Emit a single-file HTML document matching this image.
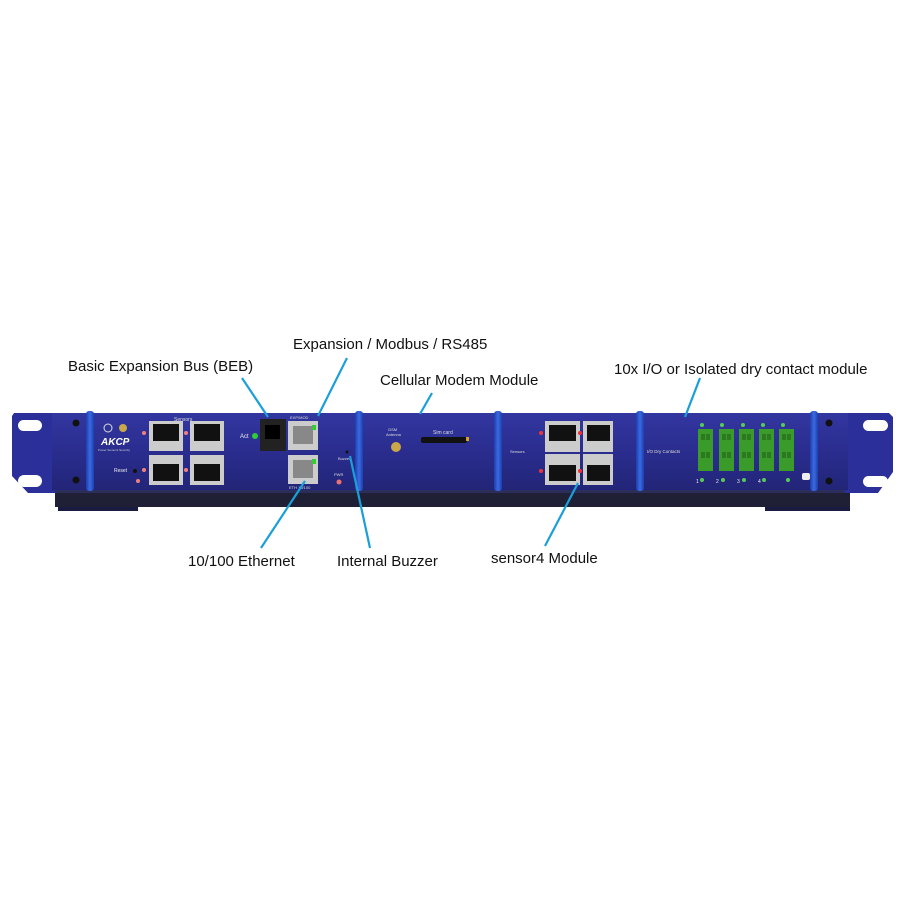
<!DOCTYPE html>
<html><head><style>
html,body{margin:0;padding:0;background:#fff;}
svg{display:block;}
text{font-family:"Liberation Sans",sans-serif;}
</style></head><body>
<svg width="900" height="900" viewBox="0 0 900 900" xmlns="http://www.w3.org/2000/svg">
<defs>
<linearGradient id="face" x1="0" y1="0" x2="0" y2="1">
<stop offset="0" stop-color="#3236a0"/><stop offset="0.5" stop-color="#2a2d8e"/><stop offset="1" stop-color="#222577"/>
</linearGradient>
<linearGradient id="bar" x1="0" y1="0" x2="1" y2="0">
<stop offset="0" stop-color="#1b3fb0"/><stop offset="0.5" stop-color="#3c6ae0"/><stop offset="1" stop-color="#1b3fb0"/>
</linearGradient>
</defs>
<!-- feet -->
<rect x="58" y="502" width="80" height="9" fill="#1a1b40"/>
<rect x="765" y="502" width="85" height="9" fill="#1a1b40"/>
<!-- bottom shadow -->
<rect x="55" y="488" width="795" height="19" fill="#1f2035"/>
<rect x="55" y="488" width="795" height="5" fill="#2b2d5a"/>
<!-- ears -->
<path d="M14 413 H55 V493 H28 L12 476 V416 Z" fill="#2a2f9a"/>
<rect x="18" y="420" width="24" height="11" rx="5.5" fill="#fff"/>
<rect x="18" y="475" width="24" height="12" rx="6" fill="#fff"/>
<path d="M845 413 H889 L893 417 V472 L878 493 H845 Z" fill="#2a2f9a"/>
<rect x="863" y="420" width="25" height="11" rx="5.5" fill="#fff"/>
<rect x="863" y="476" width="25" height="11" rx="5.5" fill="#fff"/>
<!-- face -->
<rect x="52" y="413" width="796" height="77" fill="url(#face)"/>
<circle cx="76" cy="423" r="3.5" fill="#111"/><circle cx="76" cy="480" r="3.5" fill="#111"/>
<circle cx="829" cy="423" r="3.5" fill="#111"/><circle cx="829" cy="481" r="3.5" fill="#111"/>
<!-- bars -->
<rect x="86" y="411" width="8" height="80" rx="3" fill="url(#bar)"/>
<rect x="355" y="411" width="8" height="80" rx="3" fill="url(#bar)"/>
<rect x="494" y="411" width="8" height="80" rx="3" fill="url(#bar)"/>
<rect x="636" y="411" width="8" height="80" rx="3" fill="url(#bar)"/>
<rect x="810" y="411" width="8" height="80" rx="3" fill="url(#bar)"/>
<!-- left module -->
<circle cx="108" cy="428" r="4" fill="none" stroke="#ddd" stroke-width="1"/>
<circle cx="123" cy="428" r="4" fill="#c9a84a"/>
<text x="101" y="445" font-size="10" font-weight="bold" font-style="italic" fill="#fff">AKCP</text>
<text x="98" y="451" font-size="3" fill="#ccc">Power Sensors Security</text>
<text x="174" y="421" font-size="5" fill="#ddd">Sensors</text>
<g fill="#ccc"><rect x="149" y="421" width="34" height="30"/><rect x="190" y="421" width="34" height="30"/><rect x="149" y="455" width="34" height="30"/><rect x="190" y="455" width="34" height="30"/></g>
<g fill="#111"><rect x="153" y="424" width="26" height="17"/><rect x="194" y="424" width="26" height="17"/><rect x="153" y="464" width="26" height="17"/><rect x="194" y="464" width="26" height="17"/></g>
<g fill="#f08080"><circle cx="144" cy="433" r="2"/><circle cx="186" cy="433" r="2"/><circle cx="144" cy="470" r="2"/><circle cx="186" cy="470" r="2"/><circle cx="138" cy="481" r="2"/></g>
<text x="114" y="472" font-size="5" fill="#eee">Reset</text>
<circle cx="135" cy="471" r="2" fill="#111"/>
<text x="240" y="438" font-size="6" fill="#eee">Act</text>
<circle cx="255" cy="436" r="3" fill="#3c3"/>
<rect x="260" y="419" width="26" height="32" fill="#222"/>
<rect x="265" y="425" width="15" height="14" fill="#000"/>
<text x="290" y="419" font-size="4" fill="#ddd">EXP/MOD</text>
<rect x="288" y="421" width="30" height="29" fill="#ccc"/><rect x="293" y="426" width="20" height="18" fill="#888"/><rect x="312" y="425" width="4" height="5" fill="#3c3"/>
<rect x="288" y="455" width="30" height="29" fill="#ccc"/><rect x="293" y="460" width="20" height="18" fill="#888"/><rect x="312" y="459" width="4" height="5" fill="#3c3"/>
<text x="289" y="489" font-size="4" fill="#ddd">ETH 10/100</text>
<circle cx="347" cy="452" r="1.5" fill="#111"/>
<text x="338" y="460" font-size="4" fill="#ddd">Buzzer</text>
<text x="334" y="476" font-size="4" fill="#ddd">PWR</text>
<circle cx="339" cy="482" r="2.5" fill="#f07070"/>
<!-- cellular -->
<text x="388" y="431" font-size="4" fill="#ddd">GSM</text><text x="386" y="436" font-size="4" fill="#ddd">Antenna</text>
<circle cx="396" cy="447" r="5" fill="#c9a84a"/>
<text x="433" y="434" font-size="5" fill="#ddd">Sim card</text>
<rect x="421" y="437" width="46" height="6" rx="2" fill="#111"/><rect x="466" y="437" width="3" height="4" fill="#d9a030"/>
<!-- sensor4 -->
<text x="510" y="453" font-size="4" fill="#ddd">Sensors</text>
<g fill="#ccc"><rect x="545" y="421" width="35" height="31" /><rect x="583" y="421" width="30" height="31"/><rect x="545" y="454" width="35" height="31"/><rect x="583" y="454" width="30" height="31"/></g>
<g fill="#111"><rect x="549" y="425" width="27" height="16"/><rect x="587" y="425" width="23" height="16"/><rect x="549" y="465" width="27" height="16"/><rect x="587" y="465" width="23" height="16"/></g>
<g fill="#e33"><circle cx="541" cy="433" r="2"/><circle cx="580" cy="433" r="2"/><circle cx="541" cy="471" r="2"/><circle cx="580" cy="471" r="2"/></g>
<!-- IO -->
<text x="647" y="453" font-size="4.5" fill="#ddd">I/O Dry Contacts</text>
<g>
<rect x="698" y="429" width="15" height="42" fill="#3a9a2a"/><rect x="719" y="429" width="15" height="42" fill="#3a9a2a"/><rect x="739" y="429" width="15" height="42" fill="#3a9a2a"/><rect x="759" y="429" width="15" height="42" fill="#3a9a2a"/><rect x="779" y="429" width="15" height="42" fill="#3a9a2a"/>
</g>
<g fill="#2b7a20">
<rect x="701" y="434" width="4" height="6"/><rect x="706" y="434" width="4" height="6"/><rect x="701" y="452" width="4" height="6"/><rect x="706" y="452" width="4" height="6"/>
<rect x="722" y="434" width="4" height="6"/><rect x="727" y="434" width="4" height="6"/><rect x="722" y="452" width="4" height="6"/><rect x="727" y="452" width="4" height="6"/>
<rect x="742" y="434" width="4" height="6"/><rect x="747" y="434" width="4" height="6"/><rect x="742" y="452" width="4" height="6"/><rect x="747" y="452" width="4" height="6"/>
<rect x="762" y="434" width="4" height="6"/><rect x="767" y="434" width="4" height="6"/><rect x="762" y="452" width="4" height="6"/><rect x="767" y="452" width="4" height="6"/>
<rect x="782" y="434" width="4" height="6"/><rect x="787" y="434" width="4" height="6"/><rect x="782" y="452" width="4" height="6"/><rect x="787" y="452" width="4" height="6"/>
</g>
<g fill="#5c5"><circle cx="702" cy="480" r="2"/><circle cx="723" cy="480" r="2"/><circle cx="744" cy="480" r="2"/><circle cx="764" cy="480" r="2"/><circle cx="788" cy="480" r="2"/>
<circle cx="702" cy="425" r="2"/><circle cx="722" cy="425" r="2"/><circle cx="743" cy="425" r="2"/><circle cx="763" cy="425" r="2"/><circle cx="783" cy="425" r="2"/></g>
<g font-size="5" fill="#eee"><text x="696" y="483">1</text><text x="716" y="483">2</text><text x="737" y="483">3</text><text x="758" y="483">4</text></g>
<rect x="802" y="473" width="8" height="7" rx="2" fill="#eee"/>
<!-- connector lines -->
<g stroke="#1a9fd8" stroke-width="2.2" fill="none">
<line x1="242" y1="378" x2="268" y2="417"/>
<line x1="347" y1="358" x2="318" y2="416"/>
<line x1="432" y1="393" x2="420" y2="414"/>
<line x1="700" y1="378" x2="685" y2="417"/>
<line x1="261" y1="548" x2="305" y2="481"/>
<line x1="370" y1="548" x2="350" y2="456"/>
<line x1="545" y1="546" x2="578" y2="483"/>
</g>
<!-- labels -->
<g font-size="15" fill="#111">
<text x="68" y="371">Basic Expansion Bus (BEB)</text>
<text x="293" y="349">Expansion / Modbus / RS485</text>
<text x="380" y="385">Cellular Modem Module</text>
<text x="614" y="374">10x I/O or Isolated dry contact module</text>
<text x="188" y="566">10/100 Ethernet</text>
<text x="337" y="566">Internal Buzzer</text>
<text x="491" y="563">sensor4 Module</text>
</g>
</svg>
</body></html>
